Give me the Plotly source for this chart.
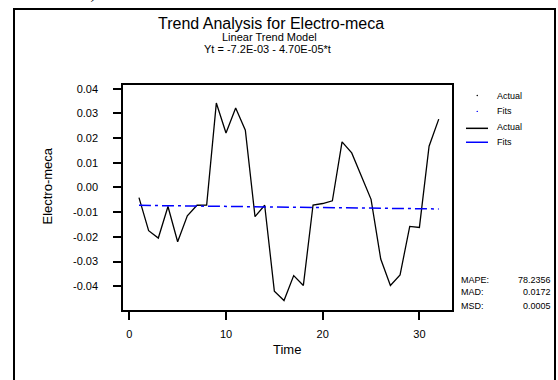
import plotly.graph_objects as go

W, H = 558, 380

time = list(range(1, 33))
actual = [-0.0041, -0.0175, -0.0205, -0.0077, -0.0220, -0.0115, -0.0072, -0.0071,
          0.0342, 0.0221, 0.0322, 0.0232, -0.0118, -0.0072, -0.0420, -0.0458,
          -0.0357, -0.0397, -0.0071, -0.0065, -0.0054, 0.0185, 0.0140, 0.0046,
          -0.0048, -0.0290, -0.0397, -0.0354, -0.0158, -0.0162, 0.0167, 0.0277]
fits = [-0.007247, -0.007294, -0.007341, -0.007388, -0.007435, -0.007482, -0.007529, -0.007576,
        -0.007623, -0.007670, -0.007717, -0.007764, -0.007811, -0.007858, -0.007905, -0.007952,
        -0.007999, -0.008046, -0.008093, -0.008140, -0.008187, -0.008234, -0.008281, -0.008328,
        -0.008375, -0.008422, -0.008469, -0.008516, -0.008563, -0.008610, -0.008657, -0.008704]
y_ticks = [0.04, 0.03, 0.02, 0.01, 0.00, -0.01, -0.02, -0.03, -0.04]
y_tick_labels = ["0.04", "0.03", "0.02", "0.01", "0.00", "-0.01", "-0.02", "-0.03", "-0.04"]
x_ticks = [0, 10, 20, 30]
stat_names = ["MAPE:", "MAD:", "MSD:"]
stat_values = ["78.2356", "0.0172", "0.0005"]
legend_labels = ["Actual", "Fits", "Actual", "Fits"]

FONT = "Liberation Sans, Arial, sans-serif"

def px(x):
    return x / W

def py(y):
    return 1 - y / H

fig = go.Figure()
fig.add_trace(go.Scatter(x=time, y=actual, mode="lines",
                         line=dict(color="black", width=1.3), showlegend=False))
fig.add_trace(go.Scatter(x=time, y=fits, mode="lines",
                         line=dict(color="#0000ff", width=1.5, dash="12px,4px,3px,4px"),
                         showlegend=False))

axis_common = dict(showline=True, linecolor="black", linewidth=2, mirror=True,
                   ticks="outside", ticklen=8, tickwidth=1.5, tickcolor="black",
                   showgrid=False, zeroline=False,
                   tickfont=dict(family=FONT, size=11, color="black"))

fig.update_layout(
    width=W, height=H,
    margin=dict(l=0, r=0, t=0, b=0),
    paper_bgcolor="white", plot_bgcolor="white",
    xaxis=dict(domain=[px(123.3), px(452)], range=[-0.62, 33.37],
               tickvals=x_ticks, ticklabelstandoff=5, **axis_common),
    yaxis=dict(domain=[py(309.5), py(83)], range=[-0.0496, 0.0417],
               tickvals=y_ticks, ticktext=y_tick_labels, ticklabelstandoff=13,
               **axis_common),
    showlegend=False,
)

ann = []
def text(x, y, s, size, xanchor="center", **kw):
    ann.append(dict(x=px(x), y=py(y), xref="paper", yref="paper", text=s,
                    showarrow=False, xanchor=xanchor, yanchor="middle",
                    font=dict(family=FONT, size=size, color="black"), **kw))

text(270.5, 22, "Trend Analysis for Electro-meca", 16)
text(269, 35, "Linear Trend Model", 11)
text(267, 47, "Yt = -7.2E-03 - 4.70E-05*t", 11)
text(47.5, 185, "Electro-meca", 13, textangle=-90)
text(287, 349, "Time", 13)

# legend
leg_y = [94, 110, 126, 141]
for yy, lab in zip(leg_y, legend_labels):
    text(495, yy, lab, 9, xanchor="left")

# stats
stat_y = [279, 292, 306]
for yy, n, v in zip(stat_y, stat_names, stat_values):
    text(459, yy, n, 9, xanchor="left")
    text(553, yy, v, 9, xanchor="right")

# cut-off text from the page above
ann.append(dict(x=px(13), y=py(3), xref="paper", yref="paper", text="de análisis)",
                showarrow=False, xanchor="left", yanchor="bottom",
                font=dict(family="Liberation Serif, serif", size=18, color="black")))

fig.update_layout(annotations=ann)

shapes = []
# outer frame
shapes.append(dict(type="rect", xref="paper", yref="paper",
                   x0=px(14), x1=px(555), y0=py(420), y1=py(7),
                   line=dict(color="black", width=2)))
# legend dots
shapes.append(dict(type="circle", xref="paper", yref="paper",
                   x0=px(476.5), x1=px(478), y0=py(94.7), y1=py(93.3),
                   fillcolor="black", line=dict(width=0)))
shapes.append(dict(type="circle", xref="paper", yref="paper",
                   x0=px(476.5), x1=px(478), y0=py(110.7), y1=py(109.3),
                   fillcolor="#0000ff", line=dict(width=0)))
# legend lines
shapes.append(dict(type="line", xref="paper", yref="paper",
                   x0=px(466), x1=px(488), y0=py(127), y1=py(127),
                   line=dict(color="black", width=1.5)))
shapes.append(dict(type="line", xref="paper", yref="paper",
                   x0=px(466), x1=px(488), y0=py(141), y1=py(141),
                   line=dict(color="#0000ff", width=1.5)))
fig.update_layout(shapes=shapes)

fig.write_html("out.html")
